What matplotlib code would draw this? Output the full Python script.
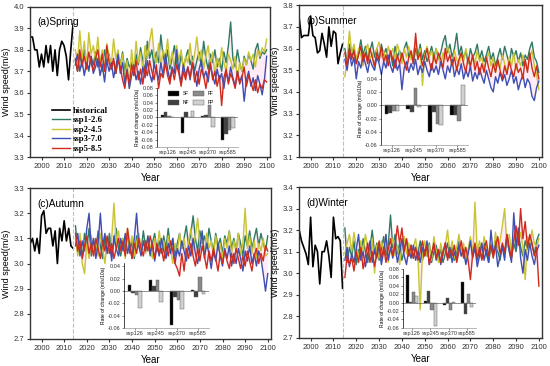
import numpy as np
import matplotlib.pyplot as plt
from matplotlib.patches import Patch

plt.rcParams['font.family'] = ['Liberation Sans', 'DejaVu Sans']

# ---- data ----
hist_years = list(range(1995, 2015))
fut_years = list(range(2015, 2101))
scen_names = ['ssp1-2.6', 'ssp2-4.5', 'ssp3-7.0', 'ssp5-8.5']
bar_groups = ['ssp126', 'ssp245', 'ssp370', 'ssp585']
bar_names = ['SF', 'NF', 'FF', 'FP']

# spring
spring_hist = [3.86, 3.86, 3.80, 3.80, 3.72, 3.78, 3.72, 3.82, 3.74, 3.82,
               3.70, 3.80, 3.68, 3.80, 3.84, 3.82, 3.77, 3.66, 3.80, 3.92]
spring_ssp126 = [3.75, 3.70, 3.78, 3.72, 3.80, 3.74, 3.70, 3.77, 3.73, 3.79,
                 3.72, 3.76, 3.70, 3.80, 3.74, 3.78, 3.71, 3.75, 3.69, 3.77,
                 3.73, 3.79, 3.70, 3.76, 3.72, 3.74, 3.68, 3.78, 3.73, 3.81,
                 3.75, 3.70, 3.84, 3.76, 3.80, 3.72, 3.79, 3.74, 3.87, 3.77,
                 3.73, 3.80, 3.71, 3.76, 3.82, 3.74, 3.70, 3.78, 3.72, 3.76,
                 3.80, 3.73, 3.77, 3.70, 3.75, 3.79, 3.72, 3.84, 3.76, 3.71,
                 3.78, 3.74, 3.80, 3.72, 3.76, 3.70, 3.79, 3.74, 3.82, 3.93,
                 3.76, 3.72, 3.80, 3.74, 3.70, 3.77, 3.73, 3.78, 3.75, 3.71,
                 3.80, 3.83, 3.76, 3.79, 3.78, 3.80]
spring_ssp245 = [3.80, 3.74, 3.89, 3.76, 3.84, 3.72, 3.88, 3.78, 3.82, 3.75,
                 3.86, 3.74, 3.80, 3.70, 3.83, 3.77, 3.73, 3.85, 3.76, 3.80,
                 3.72, 3.78, 3.66, 3.75, 3.62, 3.80, 3.70, 3.84, 3.74, 3.79,
                 3.71, 3.82, 3.76, 3.84, 3.90, 3.78, 3.74, 3.83, 3.72, 3.80,
                 3.76, 3.85, 3.73, 3.79, 3.71, 3.82, 3.75, 3.80, 3.70, 3.77,
                 3.74, 3.83, 3.72, 3.78, 3.86, 3.75, 3.80, 3.71, 3.77, 3.82,
                 3.73, 3.79, 3.68, 3.76, 3.72, 3.81, 3.74, 3.70, 3.78, 3.75,
                 3.71, 3.77, 3.66, 3.74, 3.70, 3.76, 3.73, 3.79, 3.75, 3.78,
                 3.72, 3.80, 3.77, 3.81, 3.79, 3.85]
spring_ssp370 = [3.73, 3.78, 3.70, 3.75, 3.68, 3.74, 3.71, 3.77, 3.69, 3.72,
                 3.76, 3.68, 3.73, 3.65, 3.75, 3.70, 3.74, 3.67, 3.72, 3.78,
                 3.69, 3.74, 3.64, 3.71, 3.62, 3.68, 3.73, 3.66, 3.70, 3.64,
                 3.72, 3.67, 3.75, 3.69, 3.65, 3.73, 3.70, 3.66, 3.74, 3.68,
                 3.78, 3.71, 3.66, 3.72, 3.69, 3.80, 3.70, 3.65, 3.73, 3.68,
                 3.72, 3.66, 3.74, 3.69, 3.63, 3.71, 3.75, 3.67, 3.70, 3.65,
                 3.73, 3.68, 3.64, 3.71, 3.66, 3.69, 3.62, 3.70, 3.65, 3.72,
                 3.67, 3.63, 3.70, 3.65, 3.68, 3.56, 3.66, 3.70, 3.63, 3.67,
                 3.61, 3.68, 3.64, 3.59, 3.66, 3.77]
spring_ssp585 = [3.76, 3.70, 3.80, 3.73, 3.77, 3.71, 3.79, 3.74, 3.70, 3.76,
                 3.80, 3.72, 3.78, 3.70, 3.82, 3.74, 3.71, 3.76, 3.69, 3.75,
                 3.72, 3.66, 3.62, 3.70, 3.64, 3.73, 3.68, 3.75, 3.66, 3.71,
                 3.64, 3.72, 3.68, 3.75, 3.70, 3.66, 3.73, 3.62, 3.69, 3.67,
                 3.74, 3.68, 3.64, 3.71, 3.66, 3.73, 3.69, 3.63, 3.70, 3.66,
                 3.72, 3.67, 3.74, 3.65, 3.70, 3.64, 3.71, 3.68, 3.62, 3.69,
                 3.74, 3.66, 3.70, 3.63, 3.68, 3.54, 3.67, 3.71, 3.64, 3.69,
                 3.66, 3.62, 3.70, 3.64, 3.67, 3.72, 3.63, 3.68, 3.65, 3.61,
                 3.66, 3.60, 3.64, 3.62, 3.66, 3.65]
spring_bars = [[0.008, 0.015, 0.005, 0.002],
               [-0.042, 0.015, 0.001, 0.018],
               [0.005, 0.008, 0.035, -0.025],
               [-0.062, -0.045, -0.035, -0.028]]

# summer
summer_hist = [3.74, 3.65, 3.66, 3.66, 3.66, 3.75, 3.66, 3.65, 3.58, 3.59,
               3.67, 3.62, 3.56, 3.70, 3.61, 3.68, 3.67, 3.53, 3.58, 3.62]
summer_ssp126 = [3.60, 3.54, 3.62, 3.56, 3.60, 3.53, 3.58, 3.64, 3.57, 3.61,
                 3.55, 3.59, 3.63, 3.56, 3.60, 3.54, 3.62, 3.57, 3.60, 3.55,
                 3.58, 3.52, 3.61, 3.56, 3.59, 3.54, 3.60, 3.63, 3.56, 3.58,
                 3.53, 3.60, 3.56, 3.62, 3.55, 3.59, 3.54, 3.57, 3.61, 3.56,
                 3.60, 3.55, 3.58, 3.63, 3.66, 3.58, 3.62, 3.56, 3.60, 3.67,
                 3.57, 3.61, 3.55, 3.59, 3.53, 3.60, 3.56, 3.58, 3.62, 3.55,
                 3.59, 3.54, 3.57, 3.61, 3.55, 3.58, 3.52, 3.56, 3.60, 3.55,
                 3.61, 3.57, 3.53, 3.60, 3.56, 3.59, 3.54, 3.58, 3.52, 3.57,
                 3.55, 3.60, 3.63, 3.56, 3.54, 3.49]
summer_ssp245 = [3.47, 3.55, 3.68, 3.58, 3.62, 3.55, 3.60, 3.57, 3.52, 3.59,
                 3.62, 3.55, 3.58, 3.50, 3.60, 3.63, 3.56, 3.59, 3.54, 3.61,
                 3.57, 3.60, 3.55, 3.62, 3.58, 3.53, 3.60, 3.56, 3.61, 3.55,
                 3.58, 3.63, 3.55, 3.60, 3.43, 3.57, 3.61, 3.56, 3.59, 3.54,
                 3.60, 3.56, 3.52, 3.58, 3.55, 3.61, 3.57, 3.53, 3.59, 3.55,
                 3.52, 3.58, 3.54, 3.60, 3.55, 3.51, 3.57, 3.53, 3.59, 3.54,
                 3.56, 3.50, 3.55, 3.58, 3.52, 3.56, 3.49, 3.54, 3.51, 3.57,
                 3.53, 3.49, 3.56, 3.52, 3.58, 3.50, 3.55, 3.52, 3.57, 3.53,
                 3.50, 3.56, 3.59, 3.52, 3.48, 3.41]
summer_ssp370 = [3.55, 3.50, 3.58, 3.52, 3.56, 3.46, 3.54, 3.51, 3.57, 3.53,
                 3.49, 3.55, 3.52, 3.50, 3.56, 3.53, 3.48, 3.54, 3.51, 3.57,
                 3.52, 3.49, 3.55, 3.50, 3.53, 3.41, 3.51, 3.54, 3.49, 3.53,
                 3.50, 3.55, 3.48, 3.52, 3.49, 3.54, 3.50, 3.47, 3.53, 3.49,
                 3.52, 3.48, 3.54, 3.50, 3.46, 3.52, 3.49, 3.55, 3.47, 3.51,
                 3.48, 3.53, 3.46, 3.50, 3.47, 3.52, 3.45, 3.49, 3.46, 3.51,
                 3.47, 3.44, 3.50, 3.46, 3.42, 3.40, 3.47, 3.44, 3.49, 3.45,
                 3.48, 3.43, 3.46, 3.50, 3.44, 3.47, 3.41, 3.45, 3.48, 3.42,
                 3.46, 3.44, 3.38, 3.36, 3.42, 3.45]
summer_ssp585 = [3.58, 3.52, 3.60, 3.55, 3.59, 3.53, 3.57, 3.61, 3.54, 3.58,
                 3.53, 3.60, 3.56, 3.52, 3.58, 3.55, 3.61, 3.54, 3.57, 3.52,
                 3.59, 3.55, 3.51, 3.57, 3.53, 3.58, 3.54, 3.50, 3.56, 3.59,
                 3.53, 3.67, 3.55, 3.58, 3.52, 3.56, 3.60, 3.54, 3.50, 3.57,
                 3.53, 3.58, 3.55, 3.51, 3.60, 3.54, 3.57, 3.52, 3.56, 3.50,
                 3.55, 3.58, 3.53, 3.49, 3.56, 3.52, 3.57, 3.50, 3.54, 3.48,
                 3.53, 3.49, 3.56, 3.51, 3.47, 3.53, 3.49, 3.55, 3.50, 3.46,
                 3.52, 3.48, 3.54, 3.50, 3.47, 3.53, 3.49, 3.51, 3.46, 3.55,
                 3.49, 3.58, 3.51, 3.47, 3.52, 3.46]
summer_bars = [[-0.013, -0.011, -0.008, -0.008],
               [-0.006, -0.010, 0.026, -0.002],
               [-0.040, -0.010, -0.028, -0.030],
               [-0.015, -0.015, -0.024, 0.030]]

# autumn
autumn_hist = [3.08, 3.10, 3.05, 3.10, 3.04, 3.19, 3.21, 3.12, 3.14, 3.14,
               3.07, 3.13, 3.00, 3.14, 3.09, 3.17, 3.09, 3.14, 3.07, 3.06]
autumn_ssp126 = [3.15, 3.04, 3.10, 3.02, 3.12, 3.06, 3.14, 3.03, 3.09, 3.05,
                 3.13, 3.07, 3.02, 3.10, 3.05, 3.12, 3.04, 3.08, 3.14, 3.06,
                 3.03, 3.10, 3.06, 3.12, 3.04, 3.09, 3.02, 3.11, 3.07, 3.05,
                 3.13, 3.06, 3.10, 3.03, 3.08, 3.12, 3.05, 3.09, 3.04, 3.11,
                 3.06, 3.14, 3.05, 3.10, 3.03, 3.08, 3.12, 3.06, 3.10, 3.15,
                 3.07, 3.12, 3.19, 3.10, 3.05, 3.13, 3.08, 3.11, 3.06, 3.14,
                 3.09, 3.05, 3.12, 3.07, 3.10, 3.04, 3.11, 3.08, 3.13, 3.06,
                 3.10, 3.05, 3.12, 3.08, 3.03, 3.11, 3.07, 3.13, 3.06, 3.10,
                 3.14, 3.07, 3.12, 3.08, 3.05, 3.11]
autumn_ssp245 = [3.10, 3.03, 3.12, 3.00, 2.96, 3.08, 3.02, 3.11, 3.05, 3.09,
                 3.03, 3.12, 3.06, 3.00, 3.09, 3.04, 3.10, 3.24, 3.08, 3.13,
                 3.05, 3.10, 3.02, 3.14, 3.06, 3.11, 3.03, 3.08, 3.12, 3.05,
                 3.09, 3.04, 3.11, 3.07, 3.02, 3.10, 3.05, 3.13, 3.06, 3.09,
                 3.03, 3.11, 3.06, 3.00, 3.08, 3.04, 3.12, 3.06, 3.10, 3.03,
                 3.09, 3.14, 3.05, 3.11, 3.18, 3.07, 3.10, 3.04, 3.12, 3.06,
                 3.09, 3.03, 3.11, 3.05, 3.08, 3.02, 3.10, 3.06, 3.13, 3.04,
                 3.09, 3.05, 3.12, 3.03, 3.08, 3.22, 3.06, 3.11, 3.04, 3.09,
                 3.02, 3.08, 3.05, 3.10, 3.03, 3.04]
autumn_ssp370 = [3.07, 3.12, 3.03, 3.09, 3.05, 3.14, 3.20, 3.06, 3.10, 3.02,
                 3.08, 3.20, 3.07, 3.12, 3.04, 3.09, 3.01, 3.11, 3.06, 3.03,
                 3.10, 3.05, 3.12, 3.04, 3.08, 3.02, 3.10, 3.20, 3.07, 3.03,
                 3.09, 3.05, 3.11, 3.04, 3.08, 3.01, 3.07, 3.03, 3.10, 3.05,
                 3.02, 3.08, 3.04, 3.10, 3.00, 3.06, 3.03, 3.09, 3.05, 3.01,
                 3.07, 3.03, 3.10, 3.04, 3.00, 3.06, 3.13, 3.02, 3.08, 3.04,
                 2.98, 3.05, 3.01, 3.08, 3.03, 2.99, 3.06, 3.02, 3.07, 2.99,
                 3.04, 3.00, 3.06, 3.02, 2.97, 3.05, 3.01, 3.07, 3.00, 3.04,
                 2.99, 3.05, 3.02, 2.96, 2.89, 2.96]
autumn_ssp585 = [3.12, 3.05, 3.09, 3.02, 3.07, 3.11, 3.04, 3.08, 3.03, 3.10,
                 3.06, 3.02, 3.09, 3.05, 3.11, 3.04, 3.08, 3.02, 3.06, 3.10,
                 3.05, 3.09, 3.03, 3.14, 3.07, 3.02, 3.08, 3.04, 3.10, 3.06,
                 3.03, 3.09, 3.05, 3.11, 3.07, 3.02, 3.08, 3.04, 3.06, 3.01,
                 3.07, 3.03, 3.09, 3.05, 3.00, 2.98, 2.95, 3.04, 2.97, 3.06,
                 3.02, 3.08, 3.03, 2.99, 3.06, 3.01, 3.07, 3.03, 2.98, 3.05,
                 3.01, 3.06, 3.02, 2.97, 3.04, 3.00, 3.05, 3.01, 2.98, 3.04,
                 3.00, 3.06, 3.02, 2.98, 3.03, 2.99, 3.05, 3.01, 2.97, 3.03,
                 3.06, 3.00, 3.04, 3.01, 3.07, 3.05]
autumn_bars = [[0.010, -0.003, -0.006, -0.028],
               [0.018, 0.008, 0.017, -0.018],
               [-0.055, -0.010, -0.015, -0.030],
               [0.001, -0.010, 0.023, -0.005]]

# winter
winter_hist = [3.20, 3.15, 3.12, 3.09, 3.04, 3.26, 3.03, 3.13, 3.10, 2.95,
               3.10, 3.10, 3.15, 3.08, 2.98, 3.26, 3.16, 3.17, 3.15, 2.93]
winter_ssp126 = [3.21, 3.05, 3.12, 3.08, 3.15, 3.04, 3.11, 3.07, 3.16, 3.10,
                 3.05, 3.12, 3.20, 3.09, 3.14, 3.06, 3.11, 3.17, 3.08, 3.13,
                 3.27, 3.12, 3.18, 3.09, 3.14, 3.06, 3.11, 3.16, 3.08, 3.13,
                 3.07, 3.12, 3.09, 3.15, 3.06, 3.11, 3.08, 3.14, 3.05, 3.10,
                 3.13, 3.07, 3.11, 3.05, 3.09, 3.14, 3.07, 3.12, 3.06, 3.10,
                 3.15, 3.08, 3.12, 3.05, 3.10, 3.16, 3.08, 3.13, 3.06, 3.11,
                 3.07, 3.14, 3.09, 3.05, 3.12, 3.08, 3.15, 3.10, 3.06, 3.13,
                 3.09, 3.16, 3.11, 3.07, 3.14, 3.10, 3.18, 3.12, 3.08, 3.15,
                 3.11, 3.17, 3.13, 3.09, 3.15, 3.18]
winter_ssp245 = [3.09, 3.14, 3.18, 3.10, 3.19, 3.12, 3.07, 3.15, 3.10, 3.18,
                 3.12, 3.08, 3.16, 3.00, 3.13, 3.07, 3.15, 3.10, 3.18, 3.05,
                 3.11, 3.16, 3.08, 3.13, 3.04, 3.12, 3.17, 3.09, 3.14, 3.07,
                 3.12, 3.16, 3.08, 2.83, 3.10, 3.15, 3.08, 3.13, 3.06, 3.17,
                 3.10, 3.05, 3.14, 3.08, 3.13, 3.20, 3.09, 3.15, 3.07, 3.12,
                 3.18, 3.09, 3.14, 3.06, 3.11, 3.17, 3.08, 3.33, 3.10, 3.15,
                 3.09, 3.17, 3.12, 3.07, 3.14, 3.09, 3.19, 3.11, 3.15, 3.22,
                 3.30, 3.12, 3.18, 3.10, 3.15, 3.21, 3.13, 3.19, 3.12, 2.97,
                 3.17, 3.13, 3.20, 3.14, 3.12, 3.16]
winter_ssp370 = [3.06, 3.12, 3.03, 3.09, 3.05, 3.11, 3.18, 3.06, 3.10, 3.03,
                 3.09, 3.15, 3.05, 3.11, 3.07, 3.13, 3.04, 3.10, 3.18, 3.06,
                 3.12, 3.07, 3.14, 3.05, 3.10, 3.16, 3.08, 3.04, 3.11, 3.07,
                 3.13, 3.06, 3.10, 3.05, 3.12, 3.08, 3.15, 3.04, 3.09, 3.13,
                 3.06, 3.11, 3.04, 3.09, 3.14, 3.07, 3.12, 3.05, 3.10, 3.06,
                 3.13, 3.08, 3.11, 3.04, 3.09, 3.15, 3.07, 3.12, 3.03, 3.08,
                 3.14, 3.06, 3.11, 3.05, 3.20, 3.09, 3.13, 3.03, 3.08, 3.12,
                 3.06, 3.18, 3.10, 3.05, 3.28, 3.12, 3.21, 3.07, 3.00, 3.11,
                 3.06, 3.14, 3.08, 3.04, 3.10, 3.13]
winter_ssp585 = [2.98, 3.08, 3.04, 3.07, 3.01, 3.10, 3.05, 3.12, 3.02, 3.08,
                 3.14, 3.05, 3.10, 3.03, 3.09, 3.15, 3.07, 3.12, 3.05, 3.11,
                 3.16, 3.08, 3.13, 3.22, 3.14, 3.21, 3.10, 3.16, 3.08, 3.13,
                 3.07, 3.12, 3.06, 3.10, 3.15, 3.08, 3.13, 3.04, 3.09, 3.14,
                 3.07, 3.11, 3.05, 3.10, 3.14, 3.06, 3.11, 3.08, 3.13, 3.05,
                 3.10, 3.15, 3.07, 3.12, 3.06, 2.97, 3.09, 3.14, 3.07, 3.12,
                 3.06, 3.11, 3.15, 3.08, 3.13, 3.07, 3.12, 3.17, 3.09, 3.14,
                 3.10, 3.18, 3.12, 3.07, 3.15, 3.22, 3.13, 3.30, 3.16, 3.24,
                 3.12, 3.18, 3.14, 3.08, 3.12, 2.94]
winter_bars = [[0.066, 0.001, 0.025, 0.015],
               [0.003, 0.028, -0.018, -0.055],
               [-0.005, 0.012, -0.018, 0.002],
               [0.050, -0.026, 0.020, -0.010]]

# ---- styles ----
line_colors = ['#2f7a64', '#c9c431', '#3d4fb5', '#cf2b1d']
bar_colors = ['#000000', '#404040', '#8a8a8a', '#d0d0d0']

panels = [
    dict(title='(a)Spring', hist=spring_hist,
         fut=[spring_ssp126, spring_ssp245, spring_ssp370, spring_ssp585],
         bars=spring_bars, ylim=(3.3, 4.0), pos=[0.055, 0.571, 0.436, 0.410],
         inset=[0.53, 0.067, 0.336, 0.393], iylim=(-0.08, 0.08),
         iticks=np.arange(-0.08, 0.081, 0.02), legend=True),
    dict(title='(b)Summer', hist=summer_hist,
         fut=[summer_ssp126, summer_ssp245, summer_ssp370, summer_ssp585],
         bars=summer_bars, ylim=(3.1, 3.8), pos=[0.544, 0.571, 0.442, 0.415],
         inset=[0.337, 0.079, 0.358, 0.48], iylim=(-0.06, 0.05),
         iticks=np.arange(-0.06, 0.041, 0.02), legend=False),
    dict(title='(c)Autumn', hist=autumn_hist,
         fut=[autumn_ssp126, autumn_ssp245, autumn_ssp370, autumn_ssp585],
         bars=autumn_bars, ylim=(2.7, 3.3), pos=[0.055, 0.074, 0.438, 0.412],
         inset=[0.39, 0.073, 0.35, 0.43], iylim=(-0.06, 0.045),
         iticks=np.arange(-0.06, 0.041, 0.02), legend=False),
    dict(title='(d)Winter', hist=winter_hist,
         fut=[winter_ssp126, winter_ssp245, winter_ssp370, winter_ssp585],
         bars=winter_bars, ylim=(2.7, 3.4), pos=[0.544, 0.077, 0.442, 0.412],
         inset=[0.426, 0.066, 0.303, 0.39], iylim=(-0.06, 0.08),
         iticks=np.arange(-0.06, 0.081, 0.02), legend=False),
]

fig = plt.figure(figsize=(5.5, 3.66), dpi=100)

for p in panels:
    ax = fig.add_axes(p['pos'])
    fut = np.array(p['fut'])
    # spread of the scenarios, light shading
    ax.fill_between(fut_years, fut.min(axis=0), fut.max(axis=0),
                    color='#ffc8e4', alpha=0.35, lw=0)
    ax.plot(hist_years, p['hist'], color='black', lw=1.2, label='historical')
    for s, name, c in zip(p['fut'], scen_names, line_colors):
        ax.plot(fut_years, s, color=c, lw=1.0, label=name)
    ax.axvline(2014, color='#c8b8c0', lw=0.8, ls='--')
    ax.set_xlim(1995, 2101.5)
    ax.set_ylim(*p['ylim'])
    ax.set_xticks(range(2000, 2101, 10))
    ax.set_yticks(np.arange(p['ylim'][0], p['ylim'][1] + 0.001, 0.1))
    ax.yaxis.set_major_formatter(plt.FormatStrFormatter('%.1f'))
    ax.tick_params(labelsize=5.5, length=2.5, width=0.8, pad=2, colors='#333333')
    for sp in ax.spines.values():
        sp.set_linewidth(1.0)
        sp.set_color('#333333')
    ax.set_xlabel('Year', fontsize=7, labelpad=2)
    ax.set_ylabel('Wind speed(m/s)', fontsize=6.5, labelpad=2)
    ax.text(0.03, 0.93, p['title'], transform=ax.transAxes, fontsize=7.3,
            va='top', ha='left')
    if p['legend']:
        ax.legend(loc='upper left', bbox_to_anchor=(0.07, 0.37), frameon=False,
                  prop={'family': 'Liberation Serif', 'weight': 'bold', 'size': 6.3},
                  handlelength=2.0, handletextpad=0.3, labelspacing=0.15,
                  borderpad=0.1)

    # inset bar chart of change rates
    ins = ax.inset_axes(p['inset'])
    ins.patch.set_alpha(0)
    xg = np.arange(len(bar_groups))
    w = 0.17
    vals = np.array(p['bars'])
    for k in range(4):
        ins.bar(xg + (k - 1.5) * w, vals[:, k], width=w, color=bar_colors[k],
                edgecolor='#555555', lw=0.3, label=bar_names[k])
    ins.axhline(0, color='#666666', lw=0.5)
    ins.set_ylim(*p['iylim'])
    ins.set_yticks(p['iticks'])
    ins.yaxis.set_major_formatter(plt.FormatStrFormatter('%.2f'))
    ins.set_xticks(xg)
    ins.set_xticklabels(bar_groups)
    ins.set_xlim(-0.5, 3.5)
    ins.tick_params(labelsize=4, length=1.5, width=0.4, pad=1, colors='#333333')
    ins.spines['top'].set_visible(False)
    ins.spines['right'].set_visible(False)
    ins.spines['left'].set_linewidth(0.5)
    ins.spines['bottom'].set_linewidth(0.5)
    ins.spines['bottom'].set_color('#999999')
    ins.set_ylabel('Rate of change (m/s/10a)', fontsize=3.6, labelpad=1)
    if p['legend']:
        ins.legend(handles=[Patch(facecolor=bar_colors[k], edgecolor='#555555',
                                  lw=0.3, label=bar_names[k]) for k in range(4)],
                   loc='upper left', bbox_to_anchor=(0.08, 1.02), ncol=2,
                   frameon=False, fontsize=3.5, handlelength=2.2,
                   handleheight=1.0, columnspacing=0.8, labelspacing=0.8)

fig.savefig('out.png', dpi=100)
